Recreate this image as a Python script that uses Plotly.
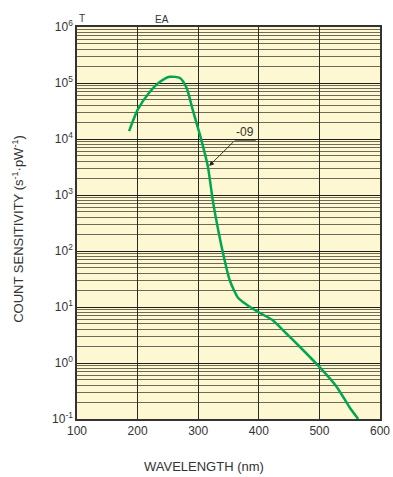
import plotly.graph_objects as go

# Spectral response curve (wavelength in nm, count sensitivity in s^-1 pW^-1)
wavelength = [186, 200, 220, 237, 253, 270, 281, 291, 303, 316, 324, 333,
              341, 352, 366, 380, 402, 422, 445, 468, 500, 529, 550, 564]
sensitivity = [1.38e4, 3.3e4, 6.9e4, 1.05e5, 1.29e5, 1.23e5, 8.1e4, 3.3e4,
               1.17e4, 3.2e3, 8.1e2, 2.37e2, 91, 30, 14.5, 11, 7.8, 5.9, 3.4,
               1.93, 0.85, 0.37, 0.16, 0.1]

x_ticks = [100, 200, 300, 400, 500, 600]
y_exponents = [-1, 0, 1, 2, 3, 4, 5, 6]
y_ticks = [10.0 ** e for e in y_exponents]
y_ticktext = [f"10<sup>{e}</sup>" for e in y_exponents]

curve_label = "-09"

fig = go.Figure()
fig.add_trace(go.Scatter(
    x=wavelength, y=sensitivity, mode="lines",
    line=dict(color="#00a651", width=2.5, shape="spline", smoothing=0.6),
    hoverinfo="skip", showlegend=False,
))

# leader arrow from the curve label to the curve (log axis: y in log10 units)
fig.add_annotation(
    x=318, y=3.52, xref="x", yref="y",
    ax=361, ay=3.98, axref="x", ayref="y",
    text="", showarrow=True, arrowhead=2, arrowsize=1.1, arrowwidth=0.9,
    arrowcolor="#222",
)
fig.add_annotation(
    x=0.555, y=0.71, xref="paper", yref="paper", text=curve_label,
    showarrow=False, font=dict(size=12, color="#333"),
    xanchor="center", yanchor="bottom",
)
fig.add_shape(type="line", xref="paper", yref="paper",
              x0=0.52, x1=0.59, y0=0.71, y1=0.71,
              line=dict(color="#333", width=0.8))

fig.add_annotation(x=0.0, y=1.0, xref="paper", yref="paper", text="T",
                   showarrow=False, font=dict(size=10, color="#333"),
                   xanchor="left", yanchor="bottom", yshift=1)
fig.add_annotation(x=0.28, y=1.0, xref="paper", yref="paper", text="EA",
                   showarrow=False, font=dict(size=10, color="#333"),
                   xanchor="center", yanchor="bottom", yshift=0)

# axis titles
fig.add_annotation(x=0.42, y=-0.122, xref="paper", yref="paper",
                   text="WAVELENGTH (nm)", showarrow=False,
                   font=dict(size=13, color="#333"),
                   xanchor="center", yanchor="middle")
fig.add_annotation(x=-0.195, y=0.485, xref="paper", yref="paper",
                   text="COUNT SENSITIVITY (s<sup>-1</sup>·pW<sup>-1</sup>)",
                   showarrow=False, textangle=-90,
                   font=dict(size=13, color="#333"),
                   xanchor="center", yanchor="middle")

fig.update_xaxes(
    range=[100, 600], tickvals=x_ticks, ticks="", automargin=False,
    showgrid=True, gridcolor="#2a2a2a", gridwidth=1.2,
    showline=True, linecolor="#333", linewidth=1.5, mirror=True,
    zeroline=False, tickfont=dict(size=12, color="#333"),
)
fig.update_yaxes(
    type="log", range=[-1, 6], tickvals=y_ticks, ticktext=y_ticktext, ticks="",
    automargin=False,
    showgrid=True, gridcolor="#1e1e1e", gridwidth=1.3,
    minor=dict(dtick="D1", showgrid=True, gridcolor="#6f6a55", gridwidth=1, ticks=""),
    showline=True, linecolor="#333", linewidth=1.5, mirror=True,
    tickfont=dict(size=12, color="#333"),
)

fig.update_layout(
    width=393, height=477,
    margin=dict(l=77, r=13, t=27, b=58),
    paper_bgcolor="white", plot_bgcolor="#fdf7d2",
    font=dict(family="Liberation Sans, Arial, sans-serif"),
)

fig.write_html("out.html")
